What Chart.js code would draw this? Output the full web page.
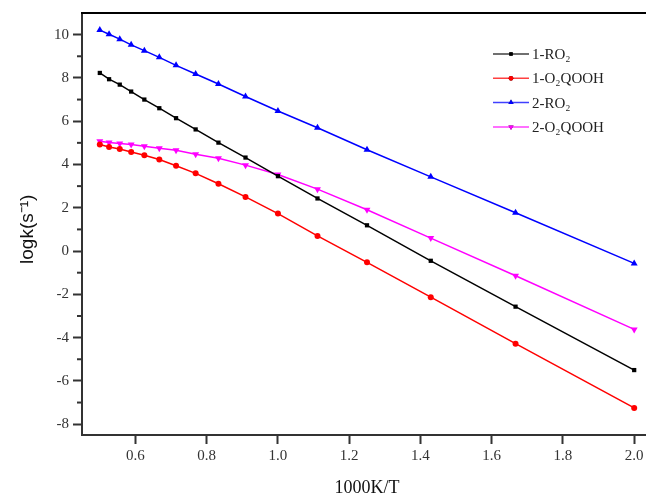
<!DOCTYPE html>
<html>
<head>
<meta charset="utf-8">
<script src="https://cdn.jsdelivr.net/npm/chart.js@4.4.1/dist/chart.umd.min.js"></script>
<style>
    html, body { margin: 0; padding: 0; background: #fff; }
    #wrap { width: 646px; height: 500px; overflow: hidden; }
</style>
</head>
<body>
<div id="wrap">
    <canvas id="rateChart" width="660" height="500"></canvas>
</div>
<script>
// 1000K/T (T = 2000 ... 500 K)
const invT = [0.5, 0.526, 0.556, 0.588, 0.625, 0.667, 0.714, 0.769, 0.833, 0.909, 1.0, 1.111, 1.25, 1.429, 1.667, 2.0];

// logk values
const ro2First = [8.23, 7.94, 7.69, 7.37, 7.00, 6.60, 6.14, 5.62, 5.01, 4.32, 3.46, 2.43, 1.19, -0.45, -2.57, -5.50];
const qoohFirst = [4.92, 4.81, 4.72, 4.58, 4.43, 4.23, 3.94, 3.59, 3.11, 2.50, 1.73, 0.70, -0.52, -2.13, -4.28, -7.25];
const ro2Second = [10.21, 10.02, 9.79, 9.53, 9.26, 8.95, 8.58, 8.18, 7.72, 7.14, 6.47, 5.70, 4.68, 3.43, 1.77, -0.57];
const qoohSecond = [5.07, 5.02, 4.97, 4.92, 4.84, 4.75, 4.66, 4.47, 4.29, 3.97, 3.54, 2.86, 1.91, 0.60, -1.14, -3.62];

const seriesLabels = ['1-RO₂', '1-O₂QOOH', '2-RO₂', '2-O₂QOOH'];

const xTicks = [0.6, 0.8, 1.0, 1.2, 1.4, 1.6, 1.8, 2.0];
const yTicks = [-8, -6, -4, -2, 0, 2, 4, 6, 8, 10];
const yMinorTicks = [-7, -5, -3, -1, 1, 3, 5, 7, 9];

const serif = "'Liberation Serif', 'Times New Roman', serif";
const axisColor = '#333';

function toPoints(ys) {
    return invT.map((x, i) => ({ x: x, y: ys[i] }));
}

function makeSet(label, ys, color, style, rotation) {
    return {
        label: label,
        data: toPoints(ys),
        borderColor: color,
        backgroundColor: color,
        borderWidth: 1.5,
        pointStyle: style,
        pointRotation: rotation || 0,
        pointRadius: style === 'triangle' ? 4 : 3,
        pointBorderWidth: 0,
        tension: 0,
        fill: false
    };
}

// top frame line, minor y ticks and the legend inside the plot
const framePlugin = {
    id: 'framePlugin',
    afterDraw(chart) {
        const ctx = chart.ctx;
        const area = chart.chartArea;
        const yScale = chart.scales.y;
        ctx.save();
        ctx.strokeStyle = '#000';
        ctx.lineWidth = 2;
        ctx.beginPath();
        ctx.moveTo(area.left - 1, area.top);
        ctx.lineTo(area.right, area.top);
        ctx.stroke();

        ctx.strokeStyle = axisColor;
        ctx.lineWidth = 2;
        yMinorTicks.forEach(v => {
            const py = yScale.getPixelForValue(v);
            ctx.beginPath();
            ctx.moveTo(area.left - 5, py);
            ctx.lineTo(area.left, py);
            ctx.stroke();
        });

        // legend
        const lx = 493, rowY = 54, rowGap = 24.3;
        ctx.font = '15px ' + serif;
        ctx.textBaseline = 'middle';
        chart.data.datasets.forEach((ds, i) => {
            const y = rowY + i * rowGap;
            ctx.strokeStyle = ds.borderColor;
            ctx.globalAlpha = 0.75;
            ctx.lineWidth = 1.5;
            ctx.beginPath();
            ctx.moveTo(lx, y);
            ctx.lineTo(lx + 36, y);
            ctx.stroke();
            ctx.globalAlpha = 1;
            Chart.helpers.drawPoint(ctx, {
                pointStyle: ds.pointStyle,
                rotation: ds.pointRotation,
                radius: ds.pointStyle === 'triangle' ? 3 : 2.4,
                borderWidth: 0
            }, lx + 18, y);
            ctx.fillStyle = ds.borderColor;
            ctx.fill();
            ctx.fillStyle = '#222';
            ctx.fillText(ds.label, lx + 39, y + 1);
        });
        ctx.restore();
    }
};

const rateCtx = document.getElementById('rateChart').getContext('2d');

new Chart(rateCtx, {
    type: 'line',
    data: {
        datasets: [
            makeSet(seriesLabels[0], ro2First, '#000000', 'rect'),
            makeSet(seriesLabels[1], qoohFirst, '#ff0000', 'circle'),
            makeSet(seriesLabels[2], ro2Second, '#0000ff', 'triangle'),
            makeSet(seriesLabels[3], qoohSecond, '#ff00ff', 'triangle', 180)
        ]
    },
    options: {
        responsive: false,
        animation: false,
        layout: { padding: { top: 12, right: 8, left: 0, bottom: 0 } },
        plugins: {
            legend: { display: false },
            tooltip: { enabled: false }
        },
        scales: {
            x: {
                type: 'linear',
                min: 0.45,
                max: 2.05,
                afterBuildTicks: scale => { scale.ticks = xTicks.map(v => ({ value: v })); },
                afterFit: scale => { scale.height = 65; },
                border: { color: axisColor, width: 2 },
                grid: {
                    drawOnChartArea: false,
                    tickLength: 9,
                    tickColor: axisColor,
                    tickWidth: 2
                },
                ticks: {
                    autoSkip: false,
                    maxRotation: 0,
                    padding: 3,
                    color: '#333',
                    font: { family: serif, size: 15 },
                    callback: v => Number(v).toFixed(1)
                },
                title: {
                    display: true,
                    text: '1000K/T',
                    color: '#111',
                    font: { family: serif, size: 18 },
                    padding: { top: 0, bottom: 1 }
                }
            },
            y: {
                min: -8.5,
                max: 11,
                afterBuildTicks: scale => { scale.ticks = yTicks.map(v => ({ value: v })); },
                afterFit: scale => { scale.width = 82; },
                border: { color: axisColor, width: 2 },
                grid: {
                    drawOnChartArea: false,
                    tickLength: 9,
                    tickColor: axisColor,
                    tickWidth: 2
                },
                ticks: {
                    autoSkip: false,
                    padding: 4,
                    color: '#333',
                    font: { family: serif, size: 15 },
                    callback: v => String(v)
                },
                title: {
                    display: true,
                    text: 'logk(s⁻¹)  ',
                    color: '#111',
                    font: { family: "'Liberation Sans', Arial, sans-serif", size: 19 },
                    padding: { top: 16, bottom: 0 }
                }
            }
        }
    },
    plugins: [framePlugin]
});
</script>
</body>
</html>
